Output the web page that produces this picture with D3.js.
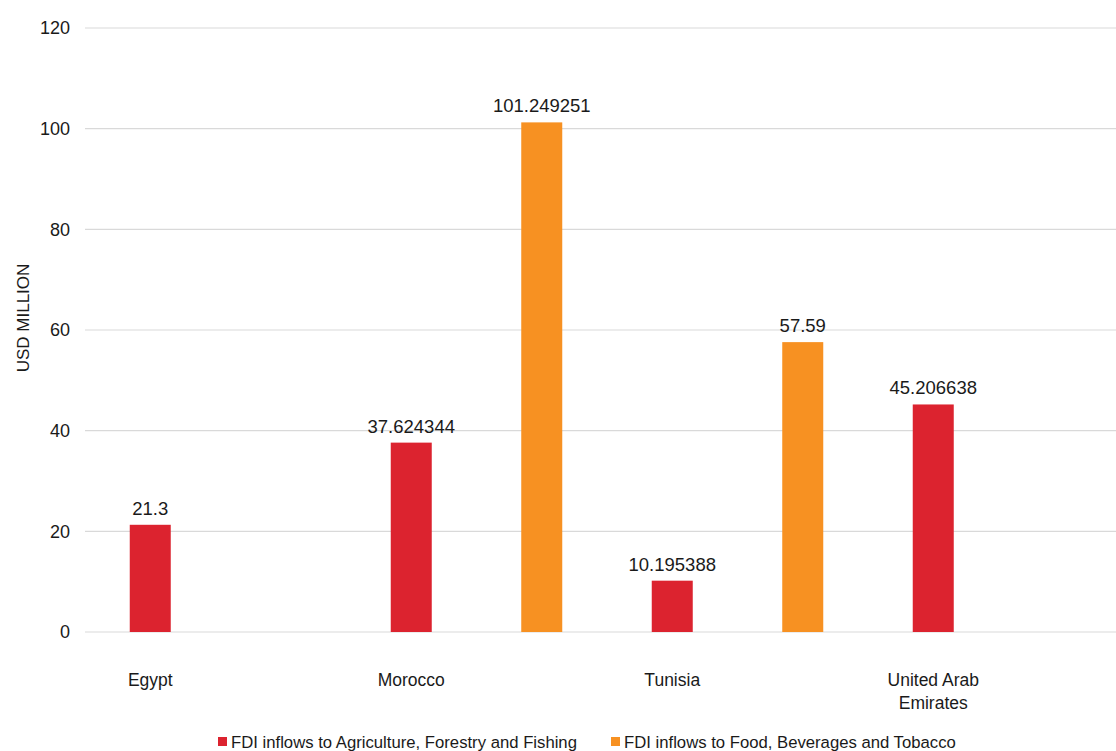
<!DOCTYPE html>
<html>
<head>
<meta charset="utf-8">
<script src="https://cdn.jsdelivr.net/npm/d3@7"></script>
<style>
  html, body { margin: 0; padding: 0; background: #fff; }
  svg { display: block; font-family: "Liberation Sans", Arial, sans-serif; }
</style>
</head>
<body>
<svg id="chart" width="1116" height="751"></svg>
<script>
// Countries on the category axis
const countries = ["Egypt", "Morocco", "Tunisia", "United Arab Emirates"];
// Label lines under each category
const countryLines = [["Egypt"], ["Morocco"], ["Tunisia"], ["United Arab", "Emirates"]];
// Series names
const seriesNames = [
  "FDI inflows to Agriculture, Forestry and Fishing",
  "FDI inflows to Food, Beverages and Tobacco"
];
// Values in USD million (null = no data)
const agriculture = [21.3, 37.624344, 10.195388, 45.206638];
const foodBeverages = [null, 101.249251, 57.59, null];
// Value-axis ticks
const yTicks = [0, 20, 40, 60, 80, 100, 120];
const seriesColors = ["#dc232f", "#f79122"];

const svg = d3.select("#chart");
const margin = { left: 85, right: -13, top: 28, bottom: 119 };
const width = 1116, height = 751;

const x = d3.scaleBand().domain(countries)
  .range([margin.left, width - margin.right]).paddingInner(0).paddingOuter(0);
const x1 = d3.scaleBand().domain([0, 1]).range([0, x.bandwidth()]);
const y = d3.scaleLinear().domain([0, 120]).range([height - margin.bottom, margin.top]);

const barW = 41;

// Horizontal gridlines
svg.append("g").selectAll("line").data(yTicks).join("line")
  .attr("x1", margin.left).attr("x2", width)
  .attr("y1", d => y(d)).attr("y2", d => y(d))
  .attr("stroke", "#d9d9d9").attr("stroke-width", 1.2);

// Y axis tick labels
const yAxis = svg.append("g")
  .attr("transform", `translate(${margin.left},0)`)
  .call(d3.axisLeft(y).tickValues(yTicks).tickSize(0).tickPadding(15));
yAxis.select(".domain").remove();
yAxis.selectAll("text")
  .attr("font-family", "Liberation Sans, Arial, sans-serif")
  .attr("font-size", 18).attr("fill", "#1a1a1a");

// Y axis title
svg.append("text")
  .attr("transform", `translate(29,318) rotate(-90)`)
  .attr("text-anchor", "middle")
  .attr("font-size", 17).attr("fill", "#1a1a1a")
  .text("USD MILLION");

// Bars and value labels
const series = [agriculture, foodBeverages];
series.forEach((vals, si) => {
  const data = countries.map((c, i) => ({ c, v: vals[i] })).filter(d => d.v != null);
  const g = svg.append("g");
  g.selectAll("rect").data(data).join("rect")
    .attr("x", d => x(d.c) + x1(si) + (x1.bandwidth() - barW) / 2)
    .attr("width", barW)
    .attr("y", d => y(d.v))
    .attr("height", d => y(0) - y(d.v))
    .attr("fill", seriesColors[si]);
  g.selectAll("text").data(data).join("text")
    .attr("x", d => x(d.c) + x1(si) + x1.bandwidth() / 2)
    .attr("y", d => y(d.v) - 10)
    .attr("text-anchor", "middle")
    .attr("font-size", 18.5).attr("fill", "#1a1a1a")
    .text(d => String(d.v));
});

// Category labels, centred under the first bar slot
const cat = svg.append("g");
countries.forEach((c, i) => {
  const t = cat.append("text")
    .attr("x", x(c) + x1(0) + x1.bandwidth() / 2)
    .attr("y", 686)
    .attr("text-anchor", "middle")
    .attr("font-size", 17.5).attr("fill", "#1a1a1a");
  countryLines[i].forEach((line, li) => {
    t.append("tspan")
      .attr("x", x(c) + x1(0) + x1.bandwidth() / 2)
      .attr("dy", li === 0 ? 0 : 23)
      .text(line);
  });
});

// Legend
const legendX = [218, 611];
const legend = svg.append("g");
seriesNames.forEach((name, i) => {
  legend.append("rect")
    .attr("x", legendX[i]).attr("y", 737)
    .attr("width", 9).attr("height", 9)
    .attr("fill", seriesColors[i]);
  legend.append("text")
    .attr("x", legendX[i] + 13).attr("y", 748)
    .attr("font-size", 16.7).attr("fill", "#1a1a1a")
    .text(name);
});
</script>
</body>
</html>
